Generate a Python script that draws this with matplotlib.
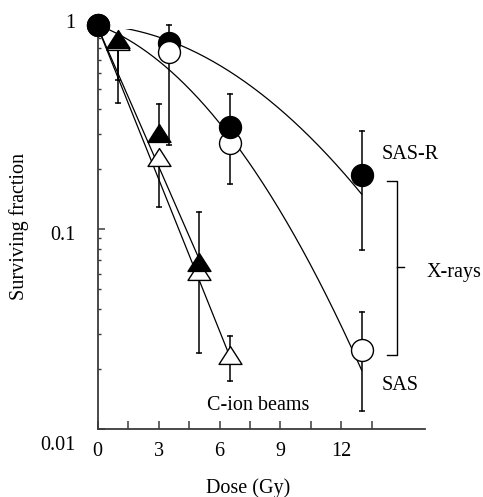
import numpy as np
import matplotlib
matplotlib.use("Agg")
import matplotlib.pyplot as plt
from matplotlib.transforms import ScaledTranslation
from matplotlib.lines import Line2D
from matplotlib.path import Path

nan = np.nan

# ---- data (surviving fraction vs dose, Gy) ----
# X-rays, SAS-R (filled circles)
xr_sasr_dose = [0, 3.5, 6.5, 13]
xr_sasr_sf = [1.047, 0.85, 0.324, 0.186]
xr_sasr_hi = [nan, 1.047, 0.473, 0.309]
xr_sasr_lo = [nan, nan, nan, 0.079]
# X-rays, SAS (open circles)
xr_sas_dose = [0, 3.5, 6.5, 13]
xr_sas_sf = [1.047, 0.77, 0.268, 0.0248]
xr_sas_hi = [nan, nan, nan, 0.0385]
xr_sas_lo = [nan, 0.263, 0.168, 0.0123]
# C-ion beams, SAS-R (filled triangles)
c_sasr_dose = [1, 3, 5]
c_sasr_sf = [0.89, 0.302, 0.0684]
c_sasr_hi = [nan, 0.422, 0.1216]
c_sasr_lo = [0.556, nan, nan]
# C-ion beams, SAS (open triangles)
c_sas_dose = [1, 3, 5, 6.5]
c_sas_sf = [0.87, 0.229, 0.0617, 0.0234]
c_sas_hi = [nan, nan, nan, 0.0293]
c_sas_lo = [0.427, 0.129, 0.0241, 0.0174]

# fitted-curve parameters (log10 units): S = S0 * 10**(-(a*D + b*D**2))
fit_x_s0 = 1.047
fit_sasr_x = (0.0065, 0.0045)
fit_sas_x = (0.0379, 0.00729)
fit_c_s0 = 1.023
fit_sasr_c = 0.232
fit_sas_c = 0.253

x_ticks = [0, 1.5, 3, 4.5, 6, 7.5, 9, 10.5, 12, 13.5]
x_tick_labels = ["0", "", "3", "", "6", "", "9", "", "12", ""]
y_ticks = [0.01, 0.1, 1]
y_tick_labels = ["0.01", "0.1", "1"]
y_minor = [0.02, 0.03, 0.04, 0.05, 0.06, 0.07, 0.08, 0.09,
           0.2, 0.3, 0.4, 0.5, 0.6, 0.7, 0.8, 0.9]

# ---- figure ----
W, H = 483, 497
plt.rcParams["font.family"] = ["Liberation Serif", "DejaVu Serif"]
FS = 14.5
fig = plt.figure(figsize=(W / 100, H / 100), dpi=100)
ax = fig.add_axes([97.7 / W, 67.7 / H, (425 - 97.7) / W, (429.3 - 29) / H])
ax.set_yscale("log")
ax.set_xlim(0, 16.12)
ax.set_ylim(0.01, 1)

spc = "#3a3a3a"
for s in ["top", "right"]:
    ax.spines[s].set_visible(False)
for s in ["left", "bottom"]:
    ax.spines[s].set_color(spc)
    ax.spines[s].set_linewidth(1.3)

ax.set_xticks(x_ticks)
ax.set_xticklabels(x_tick_labels, fontsize=FS)
ax.set_yticks(y_ticks)
ax.set_yticklabels(y_tick_labels, fontsize=FS)
ax.set_yticks(y_minor, minor=True)
ax.set_yticklabels([], minor=True)
ax.tick_params(axis="x", direction="in", length=5.5, width=1.1, color=spc, pad=9)
ax.tick_params(axis="y", which="major", direction="in", length=5, width=1.1, color=spc, pad=16)
ax.tick_params(axis="y", which="minor", direction="in", length=2.2, width=1.0, color=spc)

offs = {"1": 8, "0.1": -4, "0.01": -14}
for lab in ax.get_yticklabels():
    dy = offs.get(lab.get_text(), 0)
    lab.set_transform(lab.get_transform() + ScaledTranslation(0, dy / 100, fig.dpi_scale_trans))

# ---- fitted curves ----
d = np.linspace(0, xr_sasr_dose[-1], 300)
a, b = fit_sasr_x
ax.plot(d, fit_x_s0 * 10 ** (-(a * d + b * d ** 2)), color="black", lw=0.9, zorder=2)
a, b = fit_sas_x
ax.plot(d, fit_x_s0 * 10 ** (-(a * d + b * d ** 2)), color="black", lw=0.9, zorder=2)
d1 = np.linspace(0, c_sasr_dose[-1], 50)
ax.plot(d1, fit_c_s0 * 10 ** (-fit_sasr_c * d1), color="black", lw=0.9, zorder=2)
d2 = np.linspace(0, c_sas_dose[-1], 50)
ax.plot(d2, fit_c_s0 * 10 ** (-fit_sas_c * d2), color="black", lw=0.9, zorder=2)

# ---- error bars ----
def bars(dose, sf, lo, hi):
    for x, v, l, h in zip(dose, sf, lo, hi):
        for e in (l, h):
            if np.isfinite(e):
                ax.plot([x, x], [v, e], color="black", lw=1.1, zorder=3, clip_on=False)
                ax.plot([x], [e], marker="_", ms=4, mew=1.1, color="black", zorder=3, clip_on=False)

bars(xr_sasr_dose, xr_sasr_sf, xr_sasr_lo, xr_sasr_hi)
bars(xr_sas_dose, xr_sas_sf, xr_sas_lo, xr_sas_hi)
bars(c_sasr_dose, c_sasr_sf, c_sasr_lo, c_sasr_hi)
bars(c_sas_dose, c_sas_sf, c_sas_lo, c_sas_hi)

# ---- markers ----
tri = Path([(-1, -0.78), (1, -0.78), (0, 0.78), (-1, -0.78)],
           [Path.MOVETO, Path.LINETO, Path.LINETO, Path.CLOSEPOLY])
CMS = 15.8
TMS = 16.5
ax.plot(c_sas_dose, c_sas_sf, ls="none", marker=tri, ms=TMS, mfc="white", mec="black", mew=1.0, zorder=5, clip_on=False)
ax.plot(c_sasr_dose, c_sasr_sf, ls="none", marker=tri, ms=TMS, mfc="black", mec="black", mew=1.0, zorder=6, clip_on=False)
# circles: stacking differs per dose
order_open_on_top = [1]
for i in range(len(xr_sas_dose)):
    zo = 8 if i in order_open_on_top else 5
    ax.plot([xr_sas_dose[i]], [xr_sas_sf[i]], ls="none", marker="o", ms=CMS, mfc="white", mec="black", mew=1.0, zorder=zo, clip_on=False)
for i in range(len(xr_sasr_dose)):
    ax.plot([xr_sasr_dose[i]], [xr_sasr_sf[i]], ls="none", marker="o", ms=CMS, mfc="black", mec="black", mew=1.0, zorder=7, clip_on=False)

# ---- annotations ----
def ftext(px, py, s, **kw):
    fig.text(px / W, 1 - py / H, s, fontsize=FS, **kw)

ftext(382, 155, "SAS-R", ha="left", va="center")
ftext(382, 385, "SAS", ha="left", va="center")
ftext(427, 273, "X-rays", ha="left", va="center")
ftext(207, 405, "C-ion beams", ha="left", va="center")
ftext(248, 488, "Dose (Gy)", ha="center", va="center")
ftext(19.5, 227, "Surviving fraction", ha="center", va="center", rotation=90)

# bracket
bx = [386.7, 396.7, 396.7, 386.7]
by = [181, 181, 355, 355]
fig.add_artist(Line2D([x / W for x in bx], [1 - y / H for y in by], color="black", lw=1.0))
fig.add_artist(Line2D([396.7 / W, 403.5 / W], [1 - 267 / H, 1 - 267 / H], color="black", lw=1.0))

fig.savefig("out.png", dpi=100)
